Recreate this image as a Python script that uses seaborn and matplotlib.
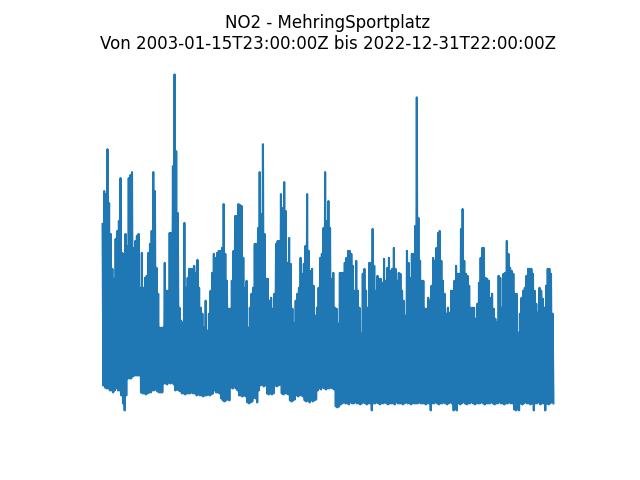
import numpy as np
import pandas as pd
import matplotlib
matplotlib.use("Agg")
import matplotlib.pyplot as plt
import seaborn as sns

station = "MehringSportplatz"
pollutant = "NO2"
start = "2003-01-15T23:00:00Z"
end = "2022-12-31T22:00:00Z"

# upper envelope (peak values), in time order
peaks_a = [197,230,227,272,218,187,152,142,182,190, 200,243,168,167,187,175,243,246,249,173,
           180,185,187,133,168,133,143,145,168,177, 190,249,230,153,127,93,93,93,158,130,
           130,188,188,255,347,270,208,113,100,98, 198,133,143,152,152,152,155,148,161,133,
           113,107,93,120,90,107,130,148,167]
peaks_b = [163,168,170,170,173,217,167,140,112,112,140,170,205,205,217,216,215,163,133,140,
           93,113,127,133,177,177,193,249,207,277, 187,142,142,120,123,112,127,177,180,180,
           227,213,239,210,158,183,157,112,97,120, 127,133,163,147,157,175,227,170,150,152,
           135,105,113,133,163,167,193,249,200]
peaks_c = [220,193,142,148,113,112,97,148,148,148,158,163,170,170,167,155,130,160,130,113,
           87,147,152,130,113,158,158,192,155,130,145,142,142,138,162,140,153,163,150,152,
           173,152,140,148,147,130,120,105,170,158,143,167,167,195,324,203,160,140,140,112,
           112,123,120,135,163,160,173,188,190,160,140]
peaks_d = [127,107,113,108,130,130,140,155,147,147,192,212,160,147,145,135,113,113,113,102,
           117,138,163,173,173,143,142,140,123,127,112,102,98,145,143,113,147,148,180,167,
           153,150,147,127,127,88,107,123,130,133,145,152,152,152,147,130,117,108,133,130,
           122,113,135,152,152,147,107]

# lower envelope (trough values), in time order
lows_a = [35,33,32,32,30,30,28,30,32,30, 30,25,17,10,25, 42,42,42,44,45,45,
          45,45,28,27,27,26,27,28,28, 30,30,31,29,28,28,28, 37,37,36,38,37,38,36,
          30,31,30,29, 27,27,26,27,27,27,28,27,27, 25,26,25,25,24,25,25,26,25,26,27,30]
lows_b = [28,28,27, 22,20,19,20,21,20, 33,32,33,32,30, 25,25,24,25,24, 18,17,18,19, 23,22,
          18,30,35,36,34,35, 27,26,27,26,27, 35,34,35,36, 27,26,27,27,26, 20,19,20,21,
          25,24,25,25,24, 20,19,20,18,20,19,20,21, 30,32,31,33,32,31,32]
lows_c = [32,33,32,31, 14,13,14,16,
          17,18,17,17,16,18,17,17,18,17, 17,16,17,18,17,16,17,17,10,17,
          17,18,17,16,17,17,18,17,16,17, 17,17,16,18,17,17,17,16,17,18,
          17,17,16,17,17,17,17,18,17,17, 17,16,17,17,10,17,17,18,17,16, 17,17,18]
lows_d = [17,16,17,18,17,10,11,10,17,16, 17,18,17,16,17,17,18,17,16,17,
          17,17,18,17,16,17,17,17,18,17, 16,17,17,18,17,17,16,17,17,18,
          17,17,11,10,11,10,17,16,17,18, 17,17,16,17,10,17,17,18,16,17,
          17,10,17,16,17,18,17]

peaks = peaks_a + peaks_b + peaks_c + peaks_d
lows = lows_a + lows_b + lows_c + lows_d

values = np.column_stack([peaks, lows]).ravel()
times = pd.date_range(start.rstrip("Z"), end.rstrip("Z"), periods=len(values))
df = pd.DataFrame({"time": times, "value": values})

fig, ax = plt.subplots(figsize=(6.4, 4.8), dpi=100)
sns.lineplot(data=df, x="time", y="value", ax=ax, color="#1f77b4", linewidth=1.5)
ax.set_title(f"{pollutant} - {station}\nVon {start} bis {end}", fontsize=12)
ax.axis("off")
fig.savefig("out.png", dpi=100)
